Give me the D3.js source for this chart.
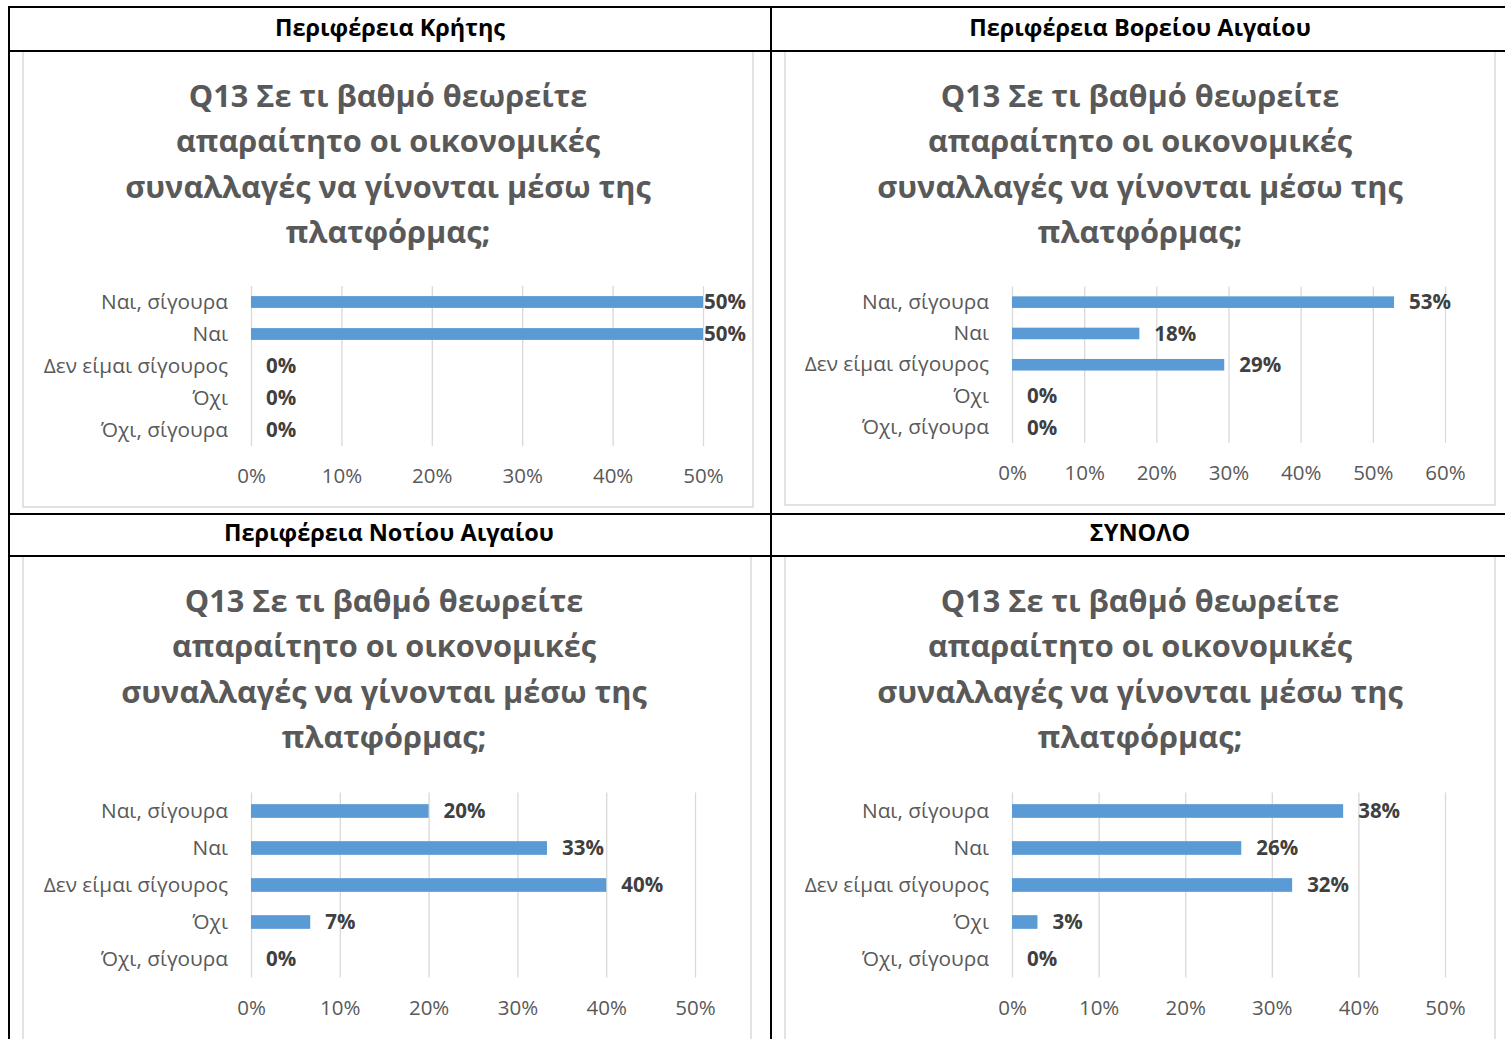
<!DOCTYPE html>
<html>
<head>
<meta charset="utf-8">
<script src="https://cdn.jsdelivr.net/npm/d3@7"></script>
<style>
  body { margin: 0; background: #fff; }
  svg text { font-family: "Open Sans", "Noto Sans", sans-serif; }
</style>
</head>
<body>
<div id="chart"></div>
<script>
// categories, top to bottom
const categories = ["Ναι, σίγουρα", "Ναι", "Δεν είμαι σίγουρος", "Όχι", "Όχι, σίγουρα"];
const regions = ["Περιφέρεια Κρήτης", "Περιφέρεια Βορείου Αιγαίου", "Περιφέρεια Νοτίου Αιγαίου", "ΣΥΝΟΛΟ"];
const titleLines = ["Q13 Σε τι βαθμό θεωρείτε", "απαραίτητο οι οικονομικές", "συναλλαγές να γίνονται μέσω της", "πλατφόρμας;"];

// shares per region
const kritiValues = [0.50, 0.50, 0, 0, 0];
const voreiouValues = [0.5294, 0.1765, 0.2941, 0, 0];
const notiouValues = [0.20, 0.3333, 0.40, 0.0667, 0];
const synoloValues = [0.3824, 0.2647, 0.3235, 0.0294, 0];
const axisMax = [0.5, 0.6, 0.5, 0.5];
const tickStep = 0.1;

const W = 1505, H = 1039;
const barColor = "#5b9bd5";

const svg = d3.select("#chart").append("svg")
    .attr("width", W)
    .attr("height", H);

svg.append("rect").attr("width", W).attr("height", H).attr("fill", "#fff");

// layout of each panel (table cell + chart box + plot area)
const panels = [
    {values: kritiValues,   header: {cx: 390, cy: 28},   box: {x: 23,  y: 51,  w: 730, h: 456}, plot: {x0: 251,  x1: 703,  y0: 286,   y1: 446}, tickY: 476, titleY: 96,  titleCx: 388},
    {values: voreiouValues, header: {cx: 1140, cy: 28},  box: {x: 785, y: 51,  w: 710, h: 454}, plot: {x0: 1012, x1: 1445, y0: 286.5, y1: 443}, tickY: 473, titleY: 96,  titleCx: 1140},
    {values: notiouValues,  header: {cx: 389, cy: 533},  box: {x: 23,  y: 556, w: 728, h: 500}, plot: {x0: 251,  x1: 695,  y0: 792.5, y1: 977.5}, tickY: 1008, titleY: 601, titleCx: 384},
    {values: synoloValues,  header: {cx: 1140, cy: 533}, box: {x: 785, y: 556, w: 710, h: 500}, plot: {x0: 1012, x1: 1445, y0: 792.5, y1: 977.5}, tickY: 1008, titleY: 601, titleCx: 1140}
];

const pct = d3.format(".0%");

panels.forEach(function(p, i) {
    let g = svg.append("g");

    // chart box
    g.append("rect")
        .attr("x", p.box.x).attr("y", p.box.y)
        .attr("width", p.box.w).attr("height", p.box.h)
        .attr("fill", "#fff")
        .attr("stroke", "#d9d9d9")
        .attr("stroke-width", 1.5);

    // title
    g.append("text")
        .attr("text-anchor", "middle")
        .attr("font-size", 30.7)
        .attr("font-weight", "bold")
        .attr("fill", "#595959")
        .selectAll("tspan")
        .data(titleLines)
        .enter()
        .append("tspan")
        .attr("x", p.titleCx)
        .attr("y", (d, j) => p.titleY + j * 45.5)
        .attr("dy", "0.35em")
        .text(d => d);

    let x = d3.scaleLinear()
        .domain([0, axisMax[i]])
        .range([p.plot.x0, p.plot.x1]);

    let y = d3.scaleBand()
        .domain(categories)
        .range([p.plot.y0, p.plot.y1])
        .paddingInner(0.63)
        .paddingOuter(0.315);

    let ticks = d3.range(0, axisMax[i] + 1e-9, tickStep);

    // gridlines + tick labels
    let xAxis = g.append("g")
        .attr("transform", "translate(0," + p.plot.y1 + ")")
        .call(d3.axisBottom(x)
            .tickValues(ticks)
            .tickFormat(pct)
            .tickSizeInner(-(p.plot.y1 - p.plot.y0))
            .tickSizeOuter(0));
    xAxis.select(".domain").remove();
    xAxis.selectAll("line").attr("stroke", "#d9d9d9").attr("stroke-width", 1.3);
    xAxis.selectAll("text")
        .attr("y", p.tickY - p.plot.y1)
        .attr("dy", "0.35em")
        .attr("font-size", 20.5)
        .attr("font-family", null)
        .attr("fill", "#595959");

    // category labels
    let yAxis = g.append("g")
        .attr("transform", "translate(" + (p.plot.x0 - 23) + ",0)")
        .call(d3.axisLeft(y).tickSize(0).tickPadding(0));
    yAxis.select(".domain").remove();
    yAxis.selectAll("text")
        .attr("font-size", 20.8)
        .attr("font-family", null)
        .attr("fill", "#595959");

    let data = categories.map((c, j) => ({cat: c, val: p.values[j]}));

    // bars
    g.selectAll(".bar")
        .data(data)
        .enter()
        .append("rect")
        .attr("class", "bar")
        .attr("x", x(0))
        .attr("y", d => y(d.cat))
        .attr("width", d => x(d.val) - x(0))
        .attr("height", y.bandwidth())
        .attr("fill", barColor);

    // value labels (pushed back inside the box if they would overflow)
    g.selectAll(".lbl")
        .data(data)
        .enter()
        .append("text")
        .attr("class", "lbl")
        .attr("x", d => Math.min(x(d.val) + 15, p.box.x + p.box.w - 49))
        .attr("y", d => y(d.cat) + y.bandwidth() / 2)
        .attr("dy", "0.35em")
        .attr("font-size", 20.5)
        .attr("font-weight", "bold")
        .attr("fill", "#404040")
        .text(d => pct(d.val));

    // cell header
    svg.append("text")
        .attr("x", p.header.cx)
        .attr("y", p.header.cy)
        .attr("dy", "0.35em")
        .attr("text-anchor", "middle")
        .attr("font-size", 23.5)
        .attr("font-weight", "bold")
        .attr("fill", "#000")
        .text(regions[i]);
});

// table rules
const hRules = [7, 51, 514, 556];
const vRules = [9, 771, 1509];
svg.selectAll(".hrule")
    .data(hRules)
    .enter()
    .append("line")
    .attr("x1", 8).attr("x2", W)
    .attr("y1", d => d).attr("y2", d => d)
    .attr("stroke", "#000").attr("stroke-width", 2);
svg.selectAll(".vrule")
    .data(vRules)
    .enter()
    .append("line")
    .attr("x1", d => d).attr("x2", d => d)
    .attr("y1", 6).attr("y2", H)
    .attr("stroke", "#000").attr("stroke-width", 2);
</script>
</body>
</html>
